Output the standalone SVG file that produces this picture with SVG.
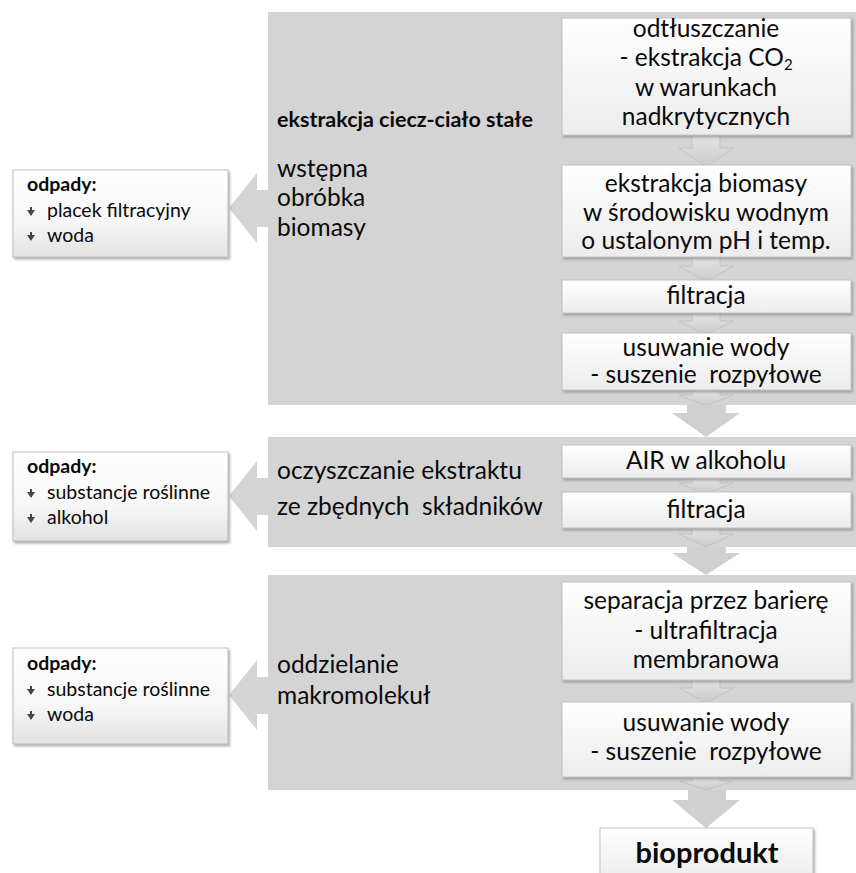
<svg xmlns="http://www.w3.org/2000/svg" width="856" height="873" viewBox="0 0 856 873">
<defs>
<style>
.panel{fill:#d4d4d4}
.box{fill:url(#gBox);stroke:#c2c2c2;stroke-width:1;filter:url(#sh)}
.waste{fill:url(#gWaste);stroke:#bdbdbd;stroke-width:1;filter:url(#sh)}
.sarrow{fill:url(#gArrow);stroke:#bcbcbc;stroke-width:0.8}
.barrow{fill:#d0d0d0}
.larrow{fill:#d4d4d4}
.t{font-family:Lato,"Liberation Sans",sans-serif;fill:#0a0a0a;font-size:24.5px}
.c{text-anchor:middle}
.b{font-weight:bold}
.w{font-family:Lato,"Liberation Sans",sans-serif;fill:#0a0a0a;font-size:19.5px}
.bul{fill:#444}
</style>
<linearGradient id="gBox" x1="0" y1="0" x2="0" y2="1">
<stop offset="0" stop-color="#ffffff"/><stop offset="1" stop-color="#ececec"/>
</linearGradient>
<linearGradient id="gWaste" x1="0" y1="0" x2="0" y2="1">
<stop offset="0" stop-color="#ffffff"/><stop offset="0.6" stop-color="#f7f7f7"/><stop offset="1" stop-color="#e2e2e2"/>
</linearGradient>
<linearGradient id="gArrow" x1="0" y1="0" x2="0" y2="1">
<stop offset="0" stop-color="#e4e4e4"/><stop offset="1" stop-color="#cacaca"/>
</linearGradient>
<filter id="sh" x="-5%" y="-5%" width="115%" height="125%">
<feDropShadow dx="1.5" dy="2" stdDeviation="1.2" flood-color="#7a7a7a" flood-opacity="0.6"/>
</filter>
<path id="bullet" d="M-1,-5 h2 v3 h3 l-4,6 l-4,-6 h3 z"/>
</defs>

<g id="panels">
<rect class="panel" x="268" y="12" width="588" height="393"/>
<rect class="panel" x="268" y="437" width="588" height="110"/>
<rect class="panel" x="268" y="575" width="588" height="215"/>
</g>

<g id="connectors">
<path class="sarrow" d="M692,135 h28 v13 h13 l-27,19 l-27,-19 h13 z"/>
<path class="sarrow" d="M692,257 h28 v9 h13 l-27,16 l-27,-16 h13 z"/>
<path class="sarrow" d="M692,313 h28 v8 h13 l-27,14 l-27,-14 h13 z"/>
<path class="sarrow" d="M692,390 h28 v5 h13 l-27,11 l-27,-11 h13 z"/>
<path class="barrow" d="M687,405 h39 v8 h14 l-34,24 l-34,-24 h15 z"/>
<path class="sarrow" d="M692,478 h28 v5 h13 l-27,11 l-27,-11 h13 z"/>
<path class="sarrow" d="M692,528 h28 v6 h13 l-27,13 l-27,-13 h13 z"/>
<path class="barrow" d="M687,547 h39 v6 h14 l-34,22 l-34,-22 h15 z"/>
<path class="sarrow" d="M692,680 h28 v8 h13 l-27,15 l-27,-15 h13 z"/>
<path class="sarrow" d="M692,777 h28 v4 h13 l-27,9 l-27,-9 h13 z"/>
<path class="barrow" d="M688,790 h38 v10 h14 l-34,28 l-34,-28 h16 z"/>
<path class="larrow" d="M268,190 v37 h-11 v16 l-28,-35 l28,-35 v17 z"/>
<path class="larrow" d="M268,478 v37 h-11 v16 l-28,-35 l28,-35 v17 z"/>
<path class="larrow" d="M268,677 v37 h-11 v16 l-28,-35 l28,-35 v17 z"/>
</g>

<g id="label-stage1">
<text class="t b" x="277" y="127" style="font-size:21.5px">ekstrakcja ciecz-ciało stałe</text>
<text class="t" x="277" y="177">wstępna</text>
<text class="t" x="277" y="206">obróbka</text>
<text class="t" x="277" y="236">biomasy</text>
</g>
<g id="label-stage2">
<text class="t" x="277" y="479">oczyszczanie ekstraktu</text>
<text class="t" x="277" y="515" xml:space="preserve">ze zbędnych  składników</text>
</g>
<g id="label-stage3">
<text class="t" x="277" y="673">oddzielanie</text>
<text class="t" x="277" y="704">makromolekuł</text>
</g>

<g id="n-odtluszczanie">
<rect class="box" x="562" y="18" width="289" height="117"/>
<text class="t c" x="706" y="37">odtłuszczanie</text>
<text class="t c" x="706" y="66">- ekstrakcja CO<tspan font-size="15" dy="4">2</tspan></text>
<text class="t c" x="706" y="96">w warunkach</text>
<text class="t c" x="706" y="125">nadkrytycznych</text>
</g>
<g id="n-ekstrakcja">
<rect class="box" x="562" y="165" width="289" height="92"/>
<text class="t c" x="706" y="192">ekstrakcja biomasy</text>
<text class="t c" x="706" y="221">w środowisku wodnym</text>
<text class="t c" x="706" y="249">o ustalonym pH i temp.</text>
</g>
<g id="n-filtracja1">
<rect class="box" x="562" y="280" width="289" height="33"/>
<text class="t c" x="706" y="304">filtracja</text>
</g>
<g id="n-usuwanie1">
<rect class="box" x="562" y="333" width="289" height="57"/>
<text class="t c" x="706" y="356">usuwanie wody</text>
<text class="t c" x="706" y="383" xml:space="preserve">- suszenie  rozpyłowe</text>
</g>
<g id="n-air">
<rect class="box" x="562" y="445" width="289" height="33"/>
<text class="t c" x="706" y="469">AIR w alkoholu</text>
</g>
<g id="n-filtracja2">
<rect class="box" x="562" y="492" width="289" height="36"/>
<text class="t c" x="706" y="518">filtracja</text>
</g>
<g id="n-separacja">
<rect class="box" x="562" y="582" width="289" height="98"/>
<text class="t c" x="706" y="609">separacja przez barierę</text>
<text class="t c" x="706" y="639">- ultrafiltracja</text>
<text class="t c" x="706" y="668">membranowa</text>
</g>
<g id="n-usuwanie2">
<rect class="box" x="562" y="702" width="289" height="75"/>
<text class="t c" x="706" y="731">usuwanie wody</text>
<text class="t c" x="706" y="760" xml:space="preserve">- suszenie  rozpyłowe</text>
</g>
<g id="n-bioprodukt">
<rect class="box" x="600" y="828" width="213" height="52"/>
<text class="t c b" x="707" y="863" style="font-size:29px">bioprodukt</text>
</g>

<g id="n-odpady1">
<rect class="waste" x="13" y="170" width="215" height="87"/>
<text class="w b" x="27" y="191">odpady:</text>
<use href="#bullet" class="bul" x="31" y="212"/>
<text class="w" x="47" y="217">placek filtracyjny</text>
<use href="#bullet" class="bul" x="31" y="237"/>
<text class="w" x="47" y="242">woda</text>
</g>
<g id="n-odpady2">
<rect class="waste" x="13" y="452" width="215" height="89"/>
<text class="w b" x="27" y="473">odpady:</text>
<use href="#bullet" class="bul" x="31" y="494"/>
<text class="w" x="47" y="499">substancje roślinne</text>
<use href="#bullet" class="bul" x="31" y="519"/>
<text class="w" x="47" y="524">alkohol</text>
</g>
<g id="n-odpady3">
<rect class="waste" x="13" y="648" width="215" height="96"/>
<text class="w b" x="27" y="670">odpady:</text>
<use href="#bullet" class="bul" x="31" y="691"/>
<text class="w" x="47" y="696">substancje roślinne</text>
<use href="#bullet" class="bul" x="31" y="716"/>
<text class="w" x="47" y="721">woda</text>
</g>
</svg>
